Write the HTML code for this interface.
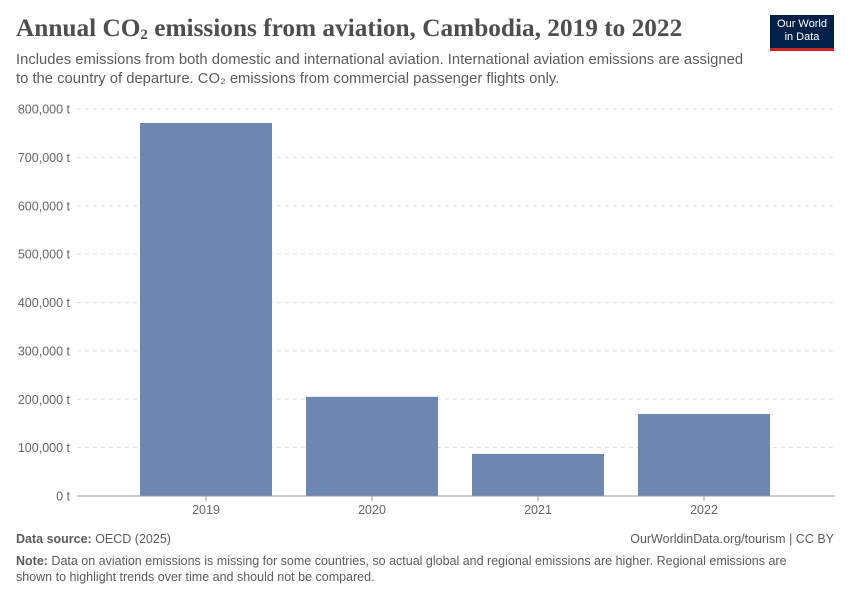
<!DOCTYPE html>
<html><head><meta charset="utf-8">
<style>
body{margin:0;background:#fff;font-family:"Liberation Sans",sans-serif;}
#wrap{position:relative;width:850px;height:600px;overflow:hidden;}
.t{position:absolute;white-space:nowrap;}
</style></head><body>
<div id="wrap">
<div class="t" style="left:16px;top:14px;font-family:'Liberation Serif',serif;font-size:25.3px;font-weight:bold;color:#4e4e4e;">Annual CO<sub style="font-size:15px;vertical-align:-3px">2</sub> emissions from aviation, Cambodia, 2019 to 2022</div>
<div class="t" style="left:16px;top:51px;font-size:14.8px;line-height:19px;color:#5b5b5b;">Includes emissions from both domestic and international aviation. International aviation emissions are assigned<br>to the country of departure. CO₂ emissions from commercial passenger flights only.</div>
<div style="position:absolute;left:770px;top:15px;width:64px;height:36px;background:#002147;border-bottom:3px solid #ce261e;color:#fff;font-size:11px;line-height:13px;text-align:center;padding-top:3px;box-sizing:border-box;">Our World<br>in Data</div>
<svg id="chart" width="850" height="600" style="position:absolute;left:0;top:0"></svg>
<div class="t" style="left:16px;top:532px;font-size:12.5px;color:#5b5b5b;"><b>Data source:</b> OECD (2025)</div>
<div class="t" style="right:16px;top:532px;font-size:12.5px;color:#5b5b5b;">OurWorldinData.org/tourism | CC BY</div>
<div class="t" style="left:16px;top:553px;font-size:12.5px;line-height:16px;color:#5b5b5b;"><b>Note:</b> Data on aviation emissions is missing for some countries, so actual global and regional emissions are higher. Regional emissions are<br>shown to highlight trends over time and should not be compared.</div>
</div>
<script>
const categories=["2019","2020","2021","2022"];
const values=[771000,205000,87000,169500];
const ticks=[0,100000,200000,300000,400000,500000,600000,700000,800000];
const tickLabels=["0 t","100,000 t","200,000 t","300,000 t","400,000 t","500,000 t","600,000 t","700,000 t","800,000 t"];
const svg=document.getElementById('chart');
const NS='http://www.w3.org/2000/svg';
const x0=77,x1=835,yBase=496,yTop=109,maxV=800000;
const bandStart=123,bandEnd=787;
const y=v=>yBase-(v/maxV)*(yBase-yTop);
const band=(bandEnd-bandStart)/categories.length;
const bw=132;
const bx=i=>bandStart+band*i+(band-bw)/2;
function mk(t,a){const e=document.createElementNS(NS,t);for(const k in a)e.setAttribute(k,a[k]);svg.appendChild(e);return e;}
ticks.forEach((v,i)=>{
  if(v>0){const l=mk('line',{x1:x0,x2:x1,y1:y(v),y2:y(v),stroke:'#ddd','stroke-dasharray':'4,4'});
  
  }
  const t=mk('text',{x:70,y:y(v)+4.5,'text-anchor':'end','font-size':12.5,fill:'#666','font-family':'Liberation Sans'});
  t.textContent=tickLabels[i];
  
  
});
categories.forEach((c,i)=>{
  const r=mk('rect',{x:bx(i),y:y(values[i]),width:bw,height:yBase-y(values[i]),fill:'#6d87b0'});
  
  
  const t=mk('text',{x:bx(i)+bw/2,y:514,'text-anchor':'middle','font-size':12.5,fill:'#666','font-family':'Liberation Sans'});
  t.textContent=c;
  
  
  const tk=mk('line',{x1:bx(i)+bw/2,x2:bx(i)+bw/2,y1:yBase,y2:yBase+5,stroke:'#999'});
  
  
});
const ax=mk('line',{x1:x0,x2:x1,y1:yBase,y2:yBase,stroke:'#999'});


</script>
</body></html>
